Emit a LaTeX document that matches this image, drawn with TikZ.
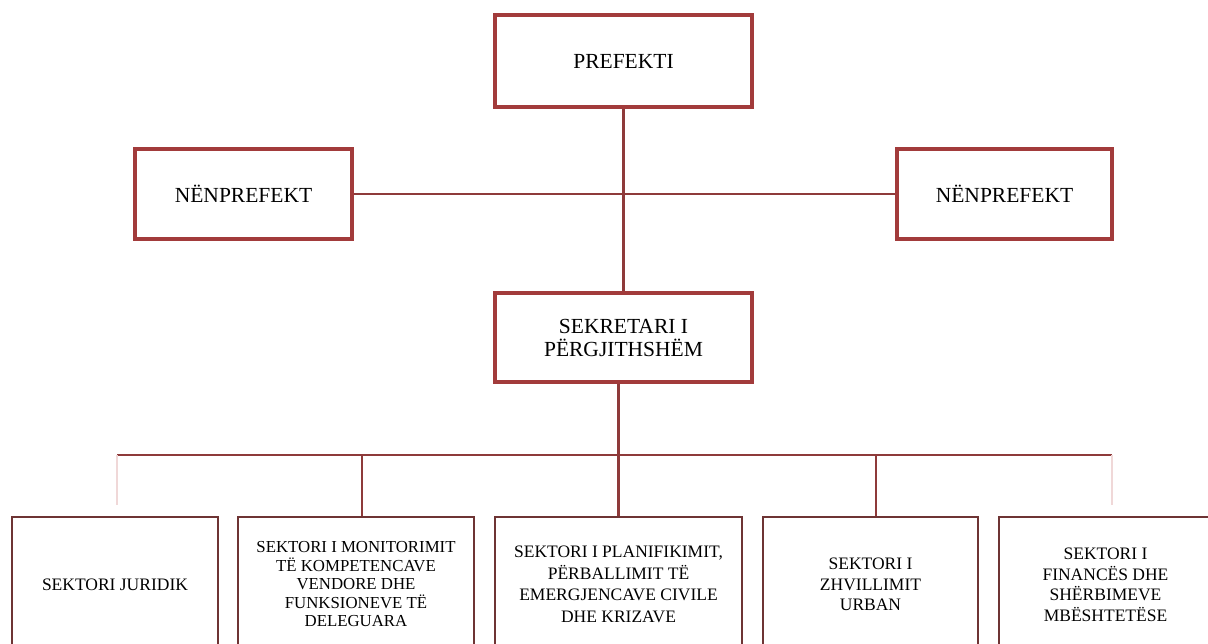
\documentclass[tikz,border=0pt]{standalone}
\usepackage{fontspec}
\setmainfont{Liberation Serif}
\definecolor{boxred}{HTML}{A23B3B}
\definecolor{linered}{HTML}{8E3A3A}
\definecolor{lowedge}{HTML}{6E3434}
\definecolor{faint}{HTML}{F0D8D8}
\begin{document}
\begin{tikzpicture}[x=1pt,y=-1pt,
 topbox/.style={draw=boxred,line width=3.2pt,fill=white,inner sep=0pt,align=center,font=\fontsize{21.5}{23}\selectfont},
 lowbox/.style={draw=lowedge,line width=2.4pt,fill=white,inner sep=0pt,align=center,font=\fontsize{17.5}{20.5}\selectfont},
 link/.style={draw=linered,line width=2.2pt},
 faintlink/.style={draw=faint,line width=1.5pt}]
\useasboundingbox (0,0) rectangle (1208,644);
\clip (0,0) rectangle (1208,644);
\fill[white] (0,0) rectangle (1208,644);

\coordinate (busL) at (117,455);
\coordinate (busR) at (1112,455);
\coordinate (j2) at (362,455);
\coordinate (j4) at (876,455);
\coordinate (fL) at (117,505);
\coordinate (fR) at (1112,505);

\node[topbox,minimum width=257pt,minimum height=92pt] (pref) at (623.5,61) {PREFEKTI};
\node[topbox,minimum width=217pt,minimum height=90pt] (nenL) at (243.5,194) {NËNPREFEKT};
\node[topbox,minimum width=215pt,minimum height=90pt] (nenR) at (1004.5,194) {NËNPREFEKT};
\node[topbox,minimum width=257pt,minimum height=89pt] (sek) at (623.5,337.5) {SEKRETARI I\\PËRGJITHSHËM};

\node[lowbox,minimum width=206pt,minimum height=135pt] (b1) at (115,584.5) {SEKTORI JURIDIK};
\node[lowbox,minimum width=236pt,minimum height=135pt,font=\fontsize{16.8}{18.5}\selectfont] (b2) at (356,584.5) {SEKTORI I MONITORIMIT\\TË KOMPETENCAVE\\VENDORE DHE\\FUNKSIONEVE TË\\DELEGUARA};
\node[lowbox,minimum width=247pt,minimum height=135pt,font=\fontsize{17.5}{21.5}\selectfont] (b3) at (618.5,584.5) {SEKTORI I PLANIFIKIMIT,\\PËRBALLIMIT TË\\EMERGJENCAVE CIVILE\\DHE KRIZAVE};
\node[lowbox,minimum width=215pt,minimum height=135pt] (b4) at (870.5,584.5) {SEKTORI I\\ZHVILLIMIT\\URBAN};
\node[lowbox,minimum width=213pt,minimum height=135pt,text depth=0pt] (b5) at (1105.5,584.5) {\raisebox{-1.5pt}{}SEKTORI I\\FINANCËS DHE\\SHËRBIMEVE\\MBËSHTETËSE};

\draw[link] (pref.south) -- (sek.north);
\draw[link] (nenL.east) -- (nenR.west);
\draw[link] (sek.south -| b3.north) -- (b3.north);
\draw[link] (busL) -- (busR);
\draw[link] (j2) -- (j2 |- b2.north);
\draw[link] (j4) -- (j4 |- b4.north);
\draw[faintlink] (busL) -- (fL);
\draw[faintlink] (busR) -- (fR);
\end{tikzpicture}
\end{document}
